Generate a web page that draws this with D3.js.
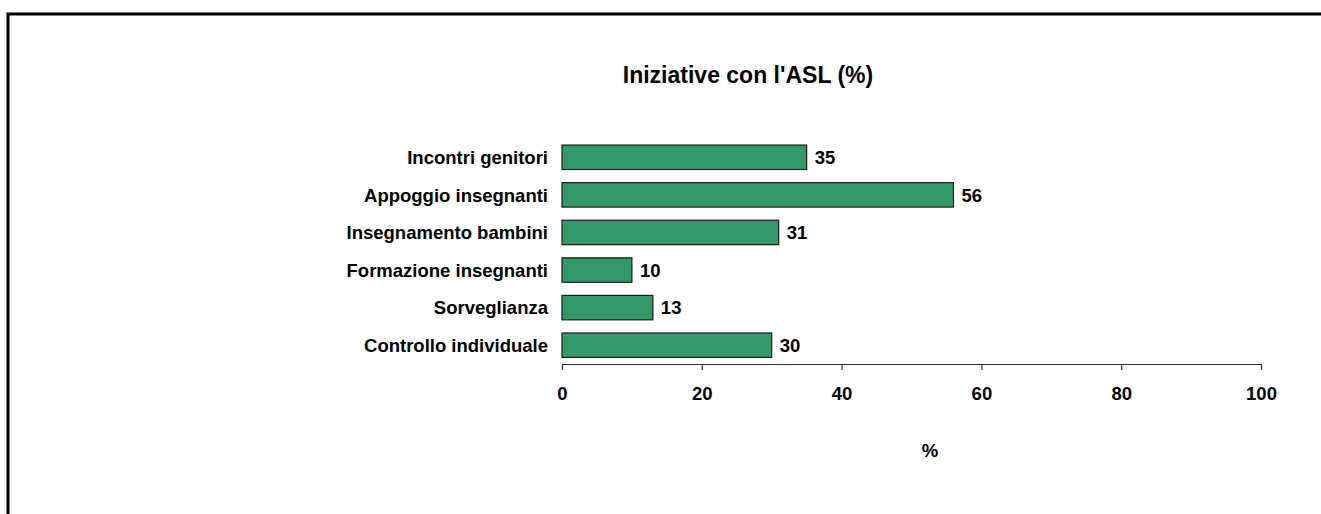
<!DOCTYPE html>
<html>
<head>
<meta charset="utf-8">
<script src="https://cdn.jsdelivr.net/npm/d3@7"></script>
<style>
  body { margin: 0; background: #fff; }
  svg { display: block; }
  text { font-family: "Liberation Sans", Arial, sans-serif; font-weight: bold; fill: #000; }
</style>
</head>
<body>
<div id="chart"></div>
<script>
// data
var categories = ["Incontri genitori", "Appoggio insegnanti", "Insegnamento bambini",
                  "Formazione insegnanti", "Sorveglianza", "Controllo individuale"];
var values = [35, 56, 31, 10, 13, 30];
var xTicks = [0, 20, 40, 60, 80, 100];
var title = "Iniziative con l'ASL (%)";
var xTitle = "%";

var svgWidth = 1321;
var svgHeight = 514;

var svg = d3.select("#chart")
    .append("svg")
    .attr("width", svgWidth)
    .attr("height", svgHeight);

// outer frame (runs off the right and bottom edges)
svg.append("rect")
    .attr("x", 8)
    .attr("y", 14)
    .attr("width", svgWidth)
    .attr("height", svgHeight)
    .style("fill", "none")
    .style("stroke", "#000")
    .style("stroke-width", 3);

var margin = { top: 138.5, left: 562, right: 60, bottom: 150 };
var chartWidth = 1261 - margin.left;
var chartHeight = 364 - margin.top;

var chartGroup = svg.append("g")
    .attr("transform", `translate(${margin.left}, ${margin.top})`);

var xScale = d3.scaleLinear()
    .domain([0, 100])
    .range([0, chartWidth]);

var yScale = d3.scaleBand()
    .domain(categories)
    .range([0, chartHeight])
    .paddingInner(0.35)
    .paddingOuter(0.175);

// bars
chartGroup.selectAll(".bar")
    .data(values)
    .enter()
    .append("rect")
    .attr("class", "bar")
    .attr("x", xScale(0))
    .attr("y", (d, i) => yScale(categories[i]))
    .attr("width", d => xScale(d) - xScale(0))
    .attr("height", yScale.bandwidth())
    .style("fill", "#339966")
    .style("stroke", "#1a1a1a")
    .style("stroke-width", 1.2);

// value labels
chartGroup.selectAll(".val")
    .data(values)
    .enter()
    .append("text")
    .attr("class", "val")
    .attr("x", d => xScale(d) + 8)
    .attr("y", (d, i) => yScale(categories[i]) + yScale.bandwidth() / 2)
    .attr("dy", "0.36em")
    .style("font-size", "18.5px")
    .text(d => d);

// category labels
chartGroup.selectAll(".cat")
    .data(categories)
    .enter()
    .append("text")
    .attr("class", "cat")
    .attr("x", -14)
    .attr("y", d => yScale(d) + yScale.bandwidth() / 2)
    .attr("dy", "0.36em")
    .attr("text-anchor", "end")
    .style("font-size", "18.5px")
    .text(d => d);

// x axis
var xAxis = d3.axisBottom(xScale)
    .tickValues(xTicks)
    .tickSizeInner(6)
    .tickSizeOuter(0)
    .tickPadding(17);

var axisG = chartGroup.append("g")
    .attr("transform", `translate(0, ${chartHeight})`)
    .call(xAxis);

axisG.select(".domain").style("stroke", "#333").style("stroke-width", 1.2);
axisG.selectAll(".tick line").style("stroke", "#333").style("stroke-width", 1.2);
axisG.selectAll(".tick text")
    .style("font-family", "'Liberation Sans', Arial, sans-serif")
    .style("font-weight", "bold")
    .style("font-size", "18.5px")
    .style("fill", "#000");

// axis title
svg.append("text")
    .attr("x", 930)
    .attr("y", 457)
    .attr("text-anchor", "middle")
    .style("font-size", "18.5px")
    .text(xTitle);

// chart title
svg.append("text")
    .attr("x", 748)
    .attr("y", 83)
    .attr("text-anchor", "middle")
    .style("font-size", "23px")
    .text(title);
</script>
</body>
</html>
